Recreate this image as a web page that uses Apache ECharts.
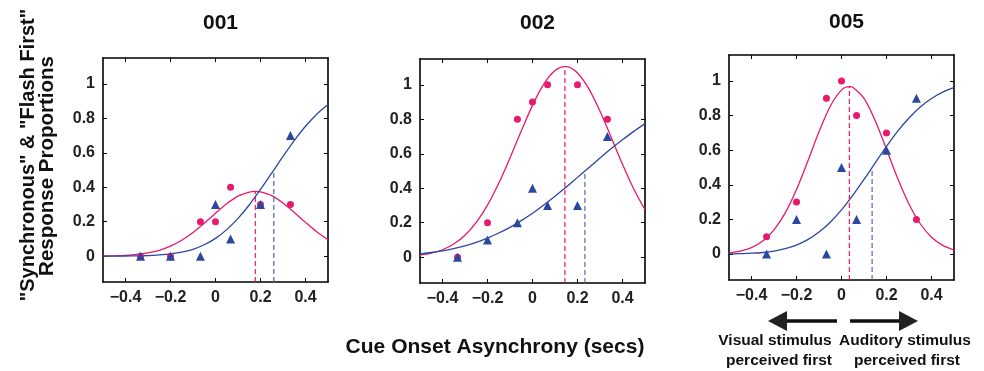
<!DOCTYPE html>
<html>
<head>
<meta charset="utf-8">
<script src="https://cdn.jsdelivr.net/npm/echarts@6/dist/echarts.min.js"></script>
<style>
html,body{margin:0;padding:0;background:#fff;}
#chart{width:984px;height:371px;}
</style>
</head>
<body>
<div id="chart"></div>
<script>
// ---- data ----
const panelTitles = ['001', '002', '005'];
const soa = [-0.333, -0.2, -0.067, 0, 0.067, 0.2, 0.333];
const sync001  = [0, 0, 0.2, 0.2, 0.4, 0.3, 0.3];
const flash001 = [0, 0, 0, 0.3, 0.1, 0.3, 0.7];
const sync002  = [0, 0.2, 0.8, 0.9, 1.0, 1.0, 0.8];
const flash002 = [0, 0.1, 0.2, 0.4, 0.3, 0.3, 0.7];
const sync005  = [0.1, 0.3, 0.9, 1.0, 0.8, 0.7, 0.2];
const flash005 = [0, 0.2, 0, 0.5, 0.2, 0.6, 0.9];

const fitX = [-0.5, -0.45, -0.4, -0.35, -0.3, -0.25, -0.2, -0.15, -0.1, -0.05, 0,
              0.05, 0.1, 0.15, 0.2, 0.25, 0.3, 0.35, 0.4, 0.45, 0.5];
const fitSync001  = [0.001, 0.002, 0.005, 0.010, 0.019, 0.034, 0.058, 0.092, 0.137, 0.191, 0.249,
                     0.304, 0.348, 0.372, 0.373, 0.351, 0.308, 0.254, 0.196, 0.141, 0.095];
const fitFlash001 = [0.000, 0.000, 0.001, 0.002, 0.003, 0.007, 0.013, 0.023, 0.040, 0.066, 0.103,
                     0.154, 0.219, 0.297, 0.387, 0.482, 0.579, 0.671, 0.754, 0.824, 0.880];
const fitSync002  = [0.012, 0.023, 0.043, 0.076, 0.127, 0.202, 0.302, 0.429, 0.576, 0.732, 0.881,
                     1.004, 1.083, 1.106, 1.069, 0.978, 0.847, 0.695, 0.539, 0.396, 0.275];
const fitFlash002 = [0.019, 0.027, 0.037, 0.050, 0.066, 0.086, 0.111, 0.140, 0.173, 0.212, 0.255,
                     0.303, 0.354, 0.407, 0.463, 0.519, 0.575, 0.630, 0.681, 0.730, 0.775];
const fitSync005  = [0.007, 0.017, 0.037, 0.075, 0.140, 0.238, 0.373, 0.536, 0.706, 0.854, 0.947,
                     0.963, 0.899, 0.770, 0.605, 0.436, 0.288, 0.175, 0.097, 0.050, 0.023];
const fitFlash005 = [0.001, 0.002, 0.005, 0.009, 0.017, 0.031, 0.052, 0.083, 0.127, 0.184, 0.255,
                     0.339, 0.431, 0.527, 0.622, 0.710, 0.786, 0.850, 0.899, 0.936, 0.961];

// peak of synchrony curve (PSS) and 50% point of flash-first curve
const syncPeakX  = [0.177, 0.144, 0.035];
const syncPeakY  = [0.376, 1.106, 0.967];
const flashHalfX = [0.259, 0.233, 0.136];
const flashHalfY = [0.5, 0.5, 0.5];

const xTicks = [-0.4, -0.2, 0, 0.2, 0.4];
const yTicks = [0, 0.2, 0.4, 0.6, 0.8, 1];
const xRange = [-0.5, 0.5];
const yRange = [-0.15, 1.15];

const xAxisTitle = 'Cue Onset Asynchrony (secs)';
const yAxisTitle = ['"Synchronous" & "Flash First"', 'Response Proportions'];
const arrowTextLeft = ['Visual stimulus', 'perceived first'];
const arrowTextRight = ['Auditory stimulus', 'perceived first'];

// ---- chart ----
const PINK = '#e8196e';
const BLUE = '#2b47a0';
const FONT = '"Liberation Sans", Arial, Helvetica, sans-serif';

const syncPts  = [sync001, sync002, sync005];
const flashPts = [flash001, flash002, flash005];
const syncFit  = [fitSync001, fitSync002, fitSync005];
const flashFit = [fitFlash001, fitFlash002, fitFlash005];

const grids = [
  {left: 103, top: 58, width: 225, height: 224},
  {left: 420, top: 59, width: 225, height: 224},
  {left: 729, top: 55, width: 225, height: 225}
];

function fmt(v) {
  if (Math.abs(v) < 1e-9) return '0';
  const s = String(Math.round(Math.abs(v) * 10) / 10);
  return v < 0 ? '\u2212' + s : s;
}

const xAxes = [], yAxes = [], series = [], titles = [];
grids.forEach((g, i) => {
  ['bottom', 'top'].forEach((pos, k) => {
    xAxes.push({
      type: 'value', gridIndex: i, position: pos, min: xRange[0], max: xRange[1],
      axisLine: {show: true, onZero: false, lineStyle: {color: '#000', width: 1.6}},
      axisTick: {show: true, inside: true, length: 4, customValues: xTicks, lineStyle: {color: '#000', width: 1}},
      axisLabel: {show: k === 0, customValues: xTicks, formatter: fmt, margin: 8,
                  color: '#222', fontSize: 16, fontWeight: 'bold', fontFamily: FONT},
      splitLine: {show: false}
    });
  });
  ['left', 'right'].forEach((pos, k) => {
    yAxes.push({
      type: 'value', gridIndex: i, position: pos, min: yRange[0], max: yRange[1],
      axisLine: {show: true, onZero: false, lineStyle: {color: '#000', width: 1.6}},
      axisTick: {show: true, inside: true, length: 4, customValues: yTicks, lineStyle: {color: '#000', width: 1}},
      axisLabel: {show: k === 0, customValues: yTicks, formatter: fmt, margin: 8,
                  color: '#222', fontSize: 16, fontWeight: 'bold', fontFamily: FONT},
      splitLine: {show: false}
    });
  });

  const xi = i * 2, yi = i * 2;
  const sf = fitX.map((x, j) => [x, syncFit[i][j]]);
  sf.push([syncPeakX[i], syncPeakY[i]]);
  sf.sort((a, b) => a[0] - b[0]);
  series.push({
    type: 'line', xAxisIndex: xi, yAxisIndex: yi, data: sf, smooth: 0.3,
    showSymbol: false, symbol: 'none', lineStyle: {color: PINK, width: 1.3}, z: 2, silent: true
  });
  series.push({
    type: 'line', xAxisIndex: xi, yAxisIndex: yi, data: fitX.map((x, j) => [x, flashFit[i][j]]),
    smooth: 0.3, showSymbol: false, symbol: 'none', lineStyle: {color: BLUE, width: 1.3}, z: 2, silent: true
  });
  series.push({
    type: 'line', xAxisIndex: xi, yAxisIndex: yi,
    data: [[syncPeakX[i], yRange[0]], [syncPeakX[i], syncPeakY[i]]],
    showSymbol: false, symbol: 'none', lineStyle: {color: PINK, width: 1.2, type: [5, 3]}, z: 3, silent: true
  });
  series.push({
    type: 'line', xAxisIndex: xi, yAxisIndex: yi,
    data: [[flashHalfX[i], yRange[0]], [flashHalfX[i], flashHalfY[i]]],
    showSymbol: false, symbol: 'none', lineStyle: {color: '#5068b2', width: 1.2, type: [5, 3]}, z: 3, silent: true
  });
  series.push({
    type: 'scatter', xAxisIndex: xi, yAxisIndex: yi, data: soa.map((x, j) => [x, syncPts[i][j]]),
    symbol: 'circle', symbolSize: 7, itemStyle: {color: PINK, opacity: 1}, z: 4, silent: true
  });
  series.push({
    type: 'scatter', xAxisIndex: xi, yAxisIndex: yi, data: soa.map((x, j) => [x, flashPts[i][j]]),
    symbol: 'triangle', symbolSize: 9, itemStyle: {color: BLUE, opacity: 1}, z: 5, silent: true
  });
  titles.push({
    text: panelTitles[i], left: g.left + g.width / 2, top: i === 2 ? 7 : 8, textAlign: 'center',
    textStyle: {fontSize: 21, fontWeight: 'bold', color: '#111', fontFamily: FONT}
  });
});

function arrowGraphic(x1, x2, y, dir) {
  const headLen = 19, headHalf = 10;
  const base = x2 - dir * headLen;
  return [
    {type: 'line', shape: {x1: x1, y1: y, x2: base, y2: y}, style: {stroke: '#111', lineWidth: 3.5}},
    {type: 'polygon', shape: {points: [[x2, y], [base, y - headHalf], [base, y + headHalf]]}, style: {fill: '#222'}}
  ];
}

const textStyleBase = {fontSize: 15.5, fontWeight: 'bold', fill: '#111', fontFamily: FONT, textAlign: 'center', textVerticalAlign: 'middle'};
const graphics = [
  {type: 'text', rotation: Math.PI / 2, position: [28, 155],
   style: Object.assign({}, textStyleBase, {text: yAxisTitle[0], fontSize: 20})},
  {type: 'text', rotation: Math.PI / 2, position: [47, 166],
   style: Object.assign({}, textStyleBase, {text: yAxisTitle[1], fontSize: 20.5})},
  {type: 'text', position: [495, 347],
   style: Object.assign({}, textStyleBase, {text: xAxisTitle, fontSize: 21})},
  {type: 'text', position: [775, 341], style: Object.assign({}, textStyleBase, {text: arrowTextLeft[0]})},
  {type: 'text', position: [779, 361], style: Object.assign({}, textStyleBase, {text: arrowTextLeft[1]})},
  {type: 'text', position: [905, 341], style: Object.assign({}, textStyleBase, {text: arrowTextRight[0]})},
  {type: 'text', position: [907, 361], style: Object.assign({}, textStyleBase, {text: arrowTextRight[1]})}
].concat(arrowGraphic(837, 768, 321, -1)).concat(arrowGraphic(850, 918, 321, 1));

const chart = echarts.init(document.getElementById('chart'), null, {renderer: 'canvas'});
chart.setOption({
  animation: false,
  backgroundColor: '#fff',
  title: titles,
  grid: grids.map(g => Object.assign({containLabel: false}, g)),
  xAxis: xAxes,
  yAxis: yAxes,
  series: series,
  graphic: graphics
});
</script>
</body>
</html>
